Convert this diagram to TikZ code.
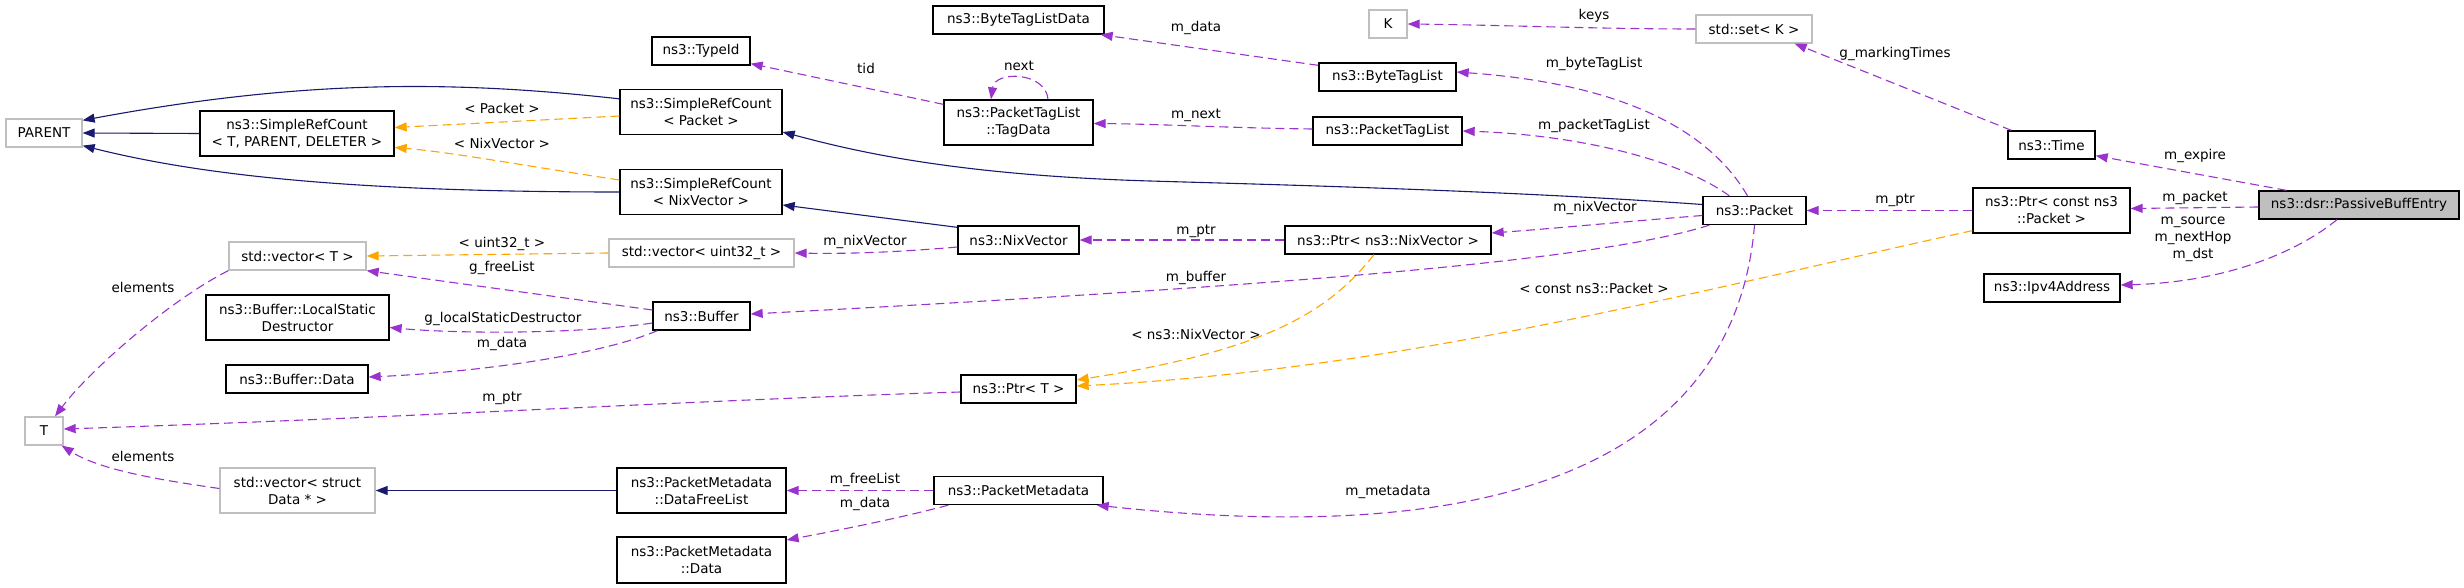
\documentclass[tikz,border=0pt]{standalone}
\usepackage{fontspec}
\setmainfont{DejaVu Sans}
\usetikzlibrary{arrows.meta,calc}
\definecolor{edgepurple}{HTML}{9A32CD}
\definecolor{edgeorange}{HTML}{FFA500}
\definecolor{edgeblue}{HTML}{191970}
\definecolor{gborder}{HTML}{BFBFBF}
\definecolor{gfill}{HTML}{BFBFBF}
\newcommand{\dxfont}{\fontsize{13.5pt}{17pt}\selectfont}
\tikzset{
  cls/.style={draw=black, line width=1.3pt, fill=white, inner sep=0pt, align=center, font=\dxfont},
  extcls/.style={cls, draw=gborder},
  selfcls/.style={cls, fill=gfill},
  lbl/.style={inner sep=0pt, align=center, font=\dxfont},
  tip/.style={-{Triangle[length=12pt,width=9pt]}},
  mem/.style={tip, draw=edgepurple, line width=1.1pt, dash pattern=on 9pt off 5pt},
  tmpl/.style={tip, draw=edgeorange, line width=1.1pt, dash pattern=on 9pt off 5pt},
  inh/.style={tip, draw=edgeblue, line width=1.1pt},
}
\begin{document}
\begin{tikzpicture}[x=1pt,y=-1pt]
\useasboundingbox (0,0) rectangle (2464,588);
% ---- nodes ----
\node[extcls, minimum width=76pt, minimum height=28pt] (PARENT) at (44,133) {PARENT};
\node[cls, minimum width=194pt, minimum height=45pt] (SRCT) at (297,133.5) {ns3::SimpleRefCount\\< T, PARENT, DELETER >};
\node[cls, minimum width=98pt, minimum height=28pt] (TypeId) at (701,51) {ns3::TypeId};
\node[cls, minimum width=162pt, minimum height=45pt] (SRCP) at (701,112) {ns3::SimpleRefCount\\< Packet >};
\node[cls, minimum width=162pt, minimum height=45pt] (SRCN) at (701,192) {ns3::SimpleRefCount\\< NixVector >};
\node[extcls, minimum width=137pt, minimum height=28pt] (VecT) at (297.5,256) {std::vector< T >};
\node[extcls, minimum width=185pt, minimum height=28pt] (VecU) at (701.5,253) {std::vector< uint32\_t >};
\node[cls, minimum width=183pt, minimum height=45pt] (LSD) at (297.5,317.5) {ns3::Buffer::LocalStatic\\Destructor};
\node[cls, minimum width=97pt, minimum height=28pt] (Buffer) at (701.5,316) {ns3::Buffer};
\node[cls, minimum width=142pt, minimum height=28pt] (BufData) at (297,379) {ns3::Buffer::Data};
\node[extcls, minimum width=38pt, minimum height=28pt] (T) at (44,431) {T};
\node[extcls, minimum width=155pt, minimum height=45pt] (VecD) at (297.5,490.5) {std::vector< struct\\Data * >};
\node[cls, minimum width=169pt, minimum height=45pt] (DFL) at (701.5,490.5) {ns3::PacketMetadata\\::DataFreeList};
\node[cls, minimum width=169pt, minimum height=46pt] (PMD) at (701.5,560) {ns3::PacketMetadata\\::Data};
\node[cls, minimum width=171pt, minimum height=28pt] (BTLD) at (1018.5,20) {ns3::ByteTagListData};
\node[extcls, minimum width=38pt, minimum height=28pt] (K) at (1388,24) {K};
\node[cls, minimum width=137pt, minimum height=28pt] (BTL) at (1387.5,77) {ns3::ByteTagList};
\node[cls, minimum width=149pt, minimum height=45pt] (TagData) at (1018.5,122.5) {ns3::PacketTagList\\::TagData};
\node[cls, minimum width=149pt, minimum height=28pt] (PTL) at (1387.5,131) {ns3::PacketTagList};
\node[cls, minimum width=121pt, minimum height=28pt] (NixVector) at (1018.5,240) {ns3::NixVector};
\node[cls, minimum width=206pt, minimum height=28pt] (PtrN) at (1388,240) {ns3::Ptr< ns3::NixVector >};
\node[cls, minimum width=115pt, minimum height=28pt] (PtrT) at (1018.5,389) {ns3::Ptr< T >};
\node[cls, minimum width=169pt, minimum height=28pt] (PM) at (1018.5,490.5) {ns3::PacketMetadata};
\node[extcls, minimum width=116pt, minimum height=28pt] (SetK) at (1754,29) {std::set< K >};
\node[cls, minimum width=87pt, minimum height=28pt] (Time) at (2051.5,145) {ns3::Time};
\node[cls, minimum width=103pt, minimum height=28pt] (Packet) at (1754.5,210.5) {ns3::Packet};
\node[cls, minimum width=157pt, minimum height=45pt] (PtrCP) at (2051.5,210.5) {ns3::Ptr< const ns3\\::Packet >};
\node[selfcls, minimum width=200pt, minimum height=28pt] (PBE) at (2359,205) {ns3::dsr::PassiveBuffEntry};
\node[cls, minimum width=136pt, minimum height=28pt] (Ipv4) at (2052,288) {ns3::Ipv4Address};
% ---- inheritance (solid blue) ----
\draw[inh] (SRCT.west) -- (PARENT.east);
\draw[inh] ($(SRCP.north west)+(0,10)$) .. controls (450,80) and (300,80) .. ($(PARENT.north east)+(0,2)$);
\draw[inh] (SRCN.west) .. controls (350,192) and (200,175) .. ($(PARENT.south east)+(0,-2)$);
\draw[inh] ($(Packet.west)+(0,-6)$) .. controls (1500,190) and (1250,184) .. (1150,181) .. controls (950,175) and (850,150) .. ($(SRCP.east)+(0,20)$);
\draw[inh] ($(NixVector.north west)+(0,2)$) -- ($(SRCN.east)+(0,13)$);
\draw[inh] (DFL.west) -- (VecD.east);
% ---- template instantiation (orange dashed) ----
\draw[tmpl] ($(SRCP.west)+(0,4)$) -- ($(SRCT.east)+(0,-6)$);
\draw[tmpl] ($(SRCN.west)+(0,-12)$) .. controls (520,165) and (450,152) .. ($(SRCT.east)+(0,14)$);
\draw[tmpl] (VecU.west) -- (VecT.east);
\draw[tmpl] ($(PtrN.south)+(-14,0)$) .. controls (1330,310) and (1270,350) .. ($(PtrT.east)+(0,-9)$);
\draw[tmpl] ($(PtrCP.south west)+(0,-3)$) .. controls (1700,290) and (1400,370) .. ($(PtrT.east)+(0,-3)$);
% ---- members (purple dashed) ----
\draw[mem] ($(TagData.north west)+(0,5)$) -- ($(TypeId.south east)+(0,-2)$);
\draw[mem] ($(TagData.north)+(29.5,0)$) .. controls (1046,72) and (995,70) .. ($(TagData.north)+(-27.5,0)$);
\draw[mem] ($(BTL.north west)+(0,3)$) -- ($(BTLD.south east)+(-4,0)$);
\draw[mem] (SetK.west) .. controls (1600,29) and (1500,25) .. (K.east);
\draw[mem] ($(Time.north west)+(4,0)$) -- ($(SetK.south east)+(-18,0)$);
\draw[mem] ($(PTL.west)+(0,-2)$) .. controls (1230,128) and (1160,124) .. ($(TagData.east)+(0,1)$);
\draw[mem] ($(Packet.north)+(-7,0)$) .. controls (1715,140) and (1640,85) .. ($(BTL.east)+(0,-5)$);
\draw[mem] ($(Packet.north west)+(27,0)$) .. controls (1680,160) and (1580,135) .. (PTL.east);
\draw[mem] (PtrN.west) -- (NixVector.east);
\draw[mem] ($(Packet.west)+(0,5)$) .. controls (1620,222) and (1560,228) .. ($(PtrN.east)+(0,-7)$);
\draw[mem] ($(NixVector.west)+(0,7)$) .. controls (900,252) and (850,254) .. (VecU.east);
\draw[mem] ($(Buffer.west)+(0,-6)$) -- (VecT.south east);
\draw[mem] ($(Buffer.west)+(0,7)$) .. controls (580,334) and (460,334) .. ($(LSD.east)+(0,10)$);
\draw[mem] ($(Buffer.south west)+(5,0)$) .. controls (600,355) and (480,372) .. ($(BufData.east)+(0,-2)$);
\draw[mem] ($(Packet.south west)+(7,0)$) .. controls (1600,260) and (1300,285) .. ($(Buffer.east)+(0,-2)$);
\draw[mem] ($(PtrT.west)+(0,3)$) .. controls (700,400) and (400,418) .. ($(T.east)+(0,-2)$);
\draw[mem] (VecT.south west) .. controls (170,300) and (90,370) .. ($(T.north)+(11,0)$);
\draw[mem] ($(VecD.west)+(0,-2)$) .. controls (160,480) and (100,470) .. ($(T.south east)+(-2,0)$);
\draw[mem] (PM.west) -- (DFL.east);
\draw[mem] ($(PM.south west)+(15,0)$) .. controls (900,518) and (840,530) .. ($(PMD.east)+(0,-20)$);
\draw[mem] (Packet.south) .. controls (1740,400) and (1600,560) .. ($(PM.south east)+(-7,0)$);
\draw[mem] (PtrCP.west) -- (Packet.east);
\draw[mem] ($(PBE.north west)+(28,0)$) -- ($(Time.south east)+(0,-4)$);
\draw[mem] ($(PBE.west)+(0,2)$) -- ($(PtrCP.east)+(0,-2)$);
\draw[mem] ($(PBE.south)+(-22,0)$) .. controls (2300,250) and (2230,282) .. ($(Ipv4.east)+(0,-3)$);
% ---- labels ----
\node[lbl] (lPacket) at (502,108) {< Packet >};
\node[lbl] (lNix) at (502,143) {< NixVector >};
\node[lbl] (lU32) at (502,244) {< uint32\_t >};
\node[lbl] (lFree) at (502,268) {g\_freeList};
\node[lbl] (lLSD) at (503,319) {g\_localStaticDestructor};
\node[lbl] (lBD) at (502,344) {m\_data};
\node[lbl] (lTptr) at (502,398) {m\_ptr};
\node[lbl] (lEl1) at (143,287) {elements};
\node[lbl] (lEl2) at (143,456) {elements};
\node[lbl] (lTid) at (866,68) {tid};
\node[lbl] (lNext) at (1019,66) {next};
\node[lbl] (lBTLD) at (1196,28) {m\_data};
\node[lbl] (lKeys) at (1594,16) {keys};
\node[lbl] (lMark) at (1895,54) {g\_markingTimes};
\node[lbl] (lMnext) at (1196,115) {m\_next};
\node[lbl] (lBTL) at (1594,64) {m\_byteTagList};
\node[lbl] (lPTL) at (1594,126) {m\_packetTagList};
\node[lbl] (lNptr) at (1196,231) {m\_ptr};
\node[lbl] (lNixV) at (1595,208) {m\_nixVector};
\node[lbl] (lNixV2) at (865,242) {m\_nixVector};
\node[lbl] (lBuf) at (1196,278) {m\_buffer};
\node[lbl] (lNS3Nix) at (1196,334) {< ns3::NixVector >};
\node[lbl] (lConstP) at (1594,288) {< const ns3::Packet >};
\node[lbl] (lMeta) at (1388,492) {m\_metadata};
\node[lbl] (lFL) at (865,480) {m\_freeList};
\node[lbl] (lPMD) at (865,504) {m\_data};
\node[lbl] (lPptr) at (1895,200) {m\_ptr};
\node[lbl] (lExp) at (2195,156) {m\_expire};
\node[lbl] (lPkt) at (2195,198) {m\_packet};
\node[lbl] (lAddr) at (2193,239) {m\_source\\m\_nextHop\\m\_dst};
\end{tikzpicture}
\end{document}
